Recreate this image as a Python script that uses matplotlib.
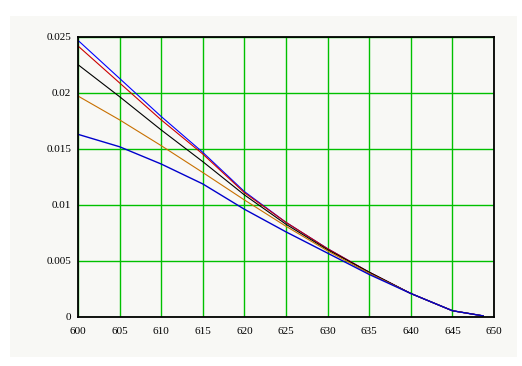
import matplotlib
matplotlib.use("Agg")
import matplotlib.pyplot as plt
from matplotlib.patches import Rectangle

# values
x = [600, 605, 610, 615, 620, 625, 630, 635, 640, 645, 648.7]
top_blue = [0.0247, 0.0213, 0.0179, 0.0147, 0.0112, 0.00845, 0.0061, 0.0040, 0.0021, 0.00056, 0.0001]
red = [0.0242, 0.0209, 0.0176, 0.01455, 0.0111, 0.00845, 0.0061, 0.0040, 0.0021, 0.00056, 0.0001]
black = [0.02253, 0.01967, 0.0167, 0.01387, 0.0109, 0.00828, 0.0060, 0.0040, 0.0021, 0.00056, 0.0001]
orange = [0.01973, 0.0176, 0.0153, 0.0129, 0.01045, 0.0081, 0.0059, 0.0039, 0.0021, 0.00056, 0.0001]
low_blue = [0.01631, 0.0152, 0.01366, 0.01188, 0.00962, 0.0076, 0.0057, 0.0038, 0.0021, 0.00056, 0.0001]

xticks = [600, 605, 610, 615, 620, 625, 630, 635, 640, 645, 650]
yticks = [0, 0.005, 0.01, 0.015, 0.02, 0.025]
ylabels = ['0', '0.005', '0.01', '0.015', '0.02', '0.025']

bg = '#f8f8f5'
fig = plt.figure(figsize=(5.22, 3.66), dpi=100)
fig.patch.set_facecolor('white')
fig.patches.append(Rectangle((10 / 522, 1 - 357 / 366), 507 / 522, 341 / 366,
                             transform=fig.transFigure, facecolor=bg,
                             edgecolor='none', zorder=-5))

ax = fig.add_axes([78 / 522, 1 - 317 / 366, 416 / 522, 280 / 366])
ax.set_zorder(1)
ax.set_facecolor(bg)

ax.plot(x, top_blue, color='#0000ff', lw=0.8)
ax.plot(x, red, color='#cc0000', lw=0.8)
ax.plot(x, black, color='black', lw=0.8)
ax.plot(x, orange, color='#c87000', lw=0.8)
ax.plot(x, low_blue, color='#0000cc', lw=1.0)

ax.set_xlim(600, 650)
ax.set_ylim(0, 0.025)
ax.set_xticks(xticks)
ax.set_xticklabels([str(t) for t in xticks])
ax.set_yticks(yticks)
ax.set_yticklabels(ylabels)
ax.grid(True, color='#00c000', lw=1.0)
ax.set_axisbelow(True)

ax.tick_params(length=0, labelsize=8, pad=5)
ax.tick_params(axis='x', pad=7)
for lbl in ax.get_xticklabels() + ax.get_yticklabels():
    lbl.set_family('Liberation Serif')
for s in ax.spines.values():
    s.set_linewidth(1.3)
    s.set_color('black')

plt.savefig('out.png', dpi=100)
